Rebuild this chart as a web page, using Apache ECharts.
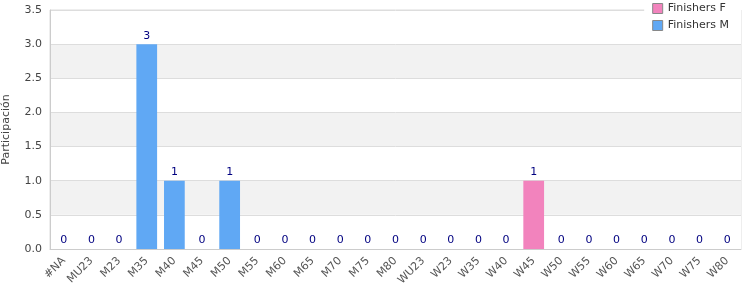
<!DOCTYPE html>
<html><head><meta charset="utf-8">
<script src="https://cdn.jsdelivr.net/npm/echarts@6/dist/echarts.min.js"></script>
<style>html,body{margin:0;padding:0;background:#fff}#c{width:750px;height:300px}</style>
</head><body><div id="c"></div>
<script>
var categories = ['#NA','MU23','M23','M35','M40','M45','M50','M55','M60','M65','M70','M75','M80','WU23','W23','W35','W40','W45','W50','W55','W60','W65','W70','W75','W80'];
var finishersF = [null,null,null,null,null,null,null,null,null,null,null,null,null,0,0,0,0,1,0,0,0,0,0,0,0];
var finishersM = [0,0,0,3,1,0,1,0,0,0,0,0,0,null,null,null,null,null,null,null,null,null,null,null,null];
var yTicks = [0,0.5,1,1.5,2,2.5,3,3.5];

var chart = echarts.init(document.getElementById('c'));
var font = 'DejaVu Sans';
var lbl = {show:true, position:'top', color:'#000080', fontFamily:font, fontSize:11, distance:3};
chart.setOption({
  animation:false,
  grid:{left:50,right:9,top:10,bottom:51,show:true,borderColor:'#dddddd',borderWidth:1,containLabel:false,outerBoundsMode:'none'},
  legend:{orient:'vertical',right:9,top:1,itemWidth:10,itemHeight:10,itemGap:6,icon:'rect',
    backgroundColor:'#fff',padding:[2,12,4,8],
    textStyle:{fontFamily:font,fontSize:11,color:'#333'},
    data:[{name:'Finishers F',itemStyle:{borderColor:'#888',borderWidth:1}},{name:'Finishers M',itemStyle:{borderColor:'#888',borderWidth:1}}]},
  xAxis:{type:'category',data:categories,
    axisLine:{lineStyle:{color:'#cccccc'}},axisTick:{show:false},
    axisLabel:{rotate:45,interval:0,fontFamily:font,fontSize:11,color:'#555',margin:10}},
  yAxis:{type:'value',min:yTicks[0],max:yTicks[yTicks.length-1],interval:0.5,
    name:'Participación',nameLocation:'middle',nameGap:38,
    nameTextStyle:{fontFamily:font,fontSize:11,color:'#444'},
    axisLine:{show:true,lineStyle:{color:'#cccccc'}},axisTick:{show:false},
    axisLabel:{fontFamily:font,fontSize:11,color:'#444',formatter:function(v){return v.toFixed(1);}},
    splitLine:{lineStyle:{color:'#dddddd'}},
    splitArea:{show:true,areaStyle:{color:['#ffffff','#f2f2f2']}}},
  series:[
    {name:'Finishers F',type:'bar',stack:'a',data:finishersF,barWidth:'75%',itemStyle:{color:'#f283bd'},label:lbl},
    {name:'Finishers M',type:'bar',stack:'a',data:finishersM,barWidth:'75%',itemStyle:{color:'#60a8f4'},label:lbl}
  ]
});
</script></body></html>
